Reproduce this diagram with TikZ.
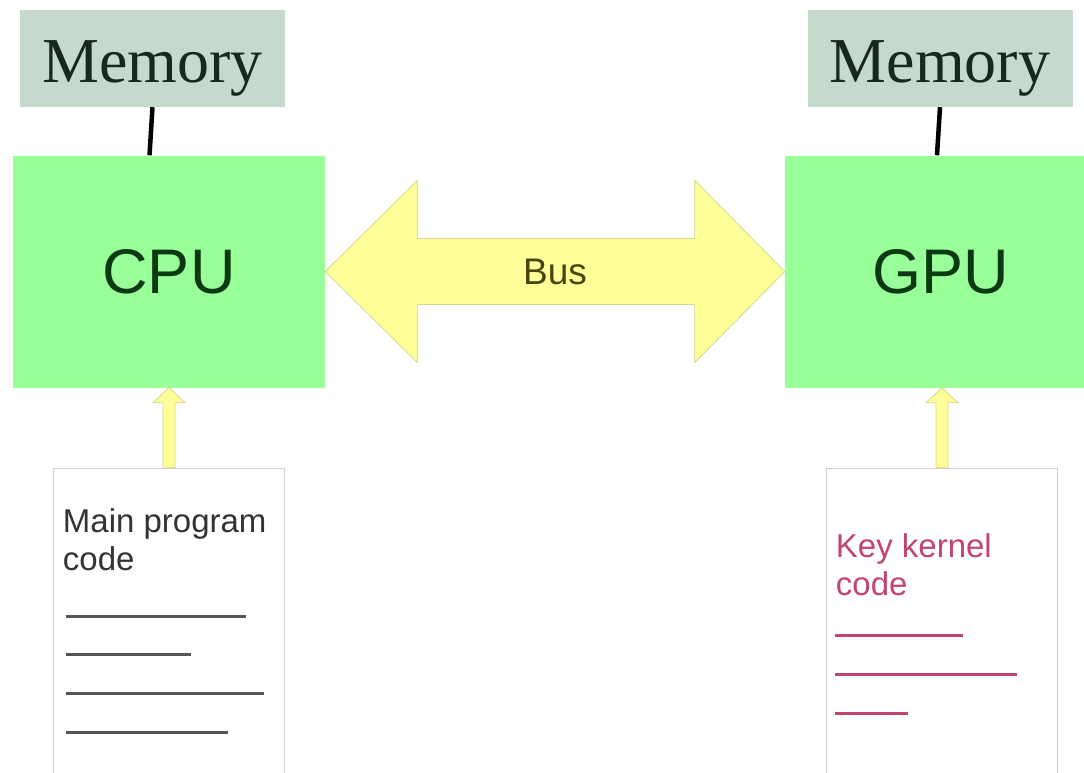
\documentclass[tikz,border=0pt]{standalone}
\usepackage{fontspec}
\setmainfont{Liberation Serif}
\setsansfont{Liberation Sans}
\usetikzlibrary{positioning, calc}

\definecolor{memfill}{HTML}{C6D9CD}
\definecolor{memtext}{HTML}{18281E}
\definecolor{chipfill}{HTML}{99FF99}
\definecolor{chiptext}{HTML}{0B3A12}
\definecolor{busfill}{HTML}{FFFF99}
\definecolor{busline}{HTML}{D6D68C}
\definecolor{bustext}{HTML}{46460F}
\definecolor{pagegray}{HTML}{D0D0D0}
\definecolor{codegray}{HTML}{555555}
\definecolor{kernelred}{HTML}{C2456E}

\tikzset{
  membox/.style={fill=memfill, inner sep=0pt, minimum width=265pt, minimum height=97pt,
    text=memtext, text height=49pt, text depth=0pt, font=\fontsize{64}{70}\selectfont},
  chipbox/.style={fill=chipfill, inner sep=0pt, minimum width=312pt, minimum height=232pt,
    text=chiptext, font=\sffamily\fontsize{63}{70}\selectfont},
  memlink/.style={line width=4.5pt, black},
  busarrow/.style={fill=busfill, draw=busline, line width=0.8pt, line join=miter},
  feedarrow/.style={fill=busfill, draw=busline, line width=0.8pt},
  codepage/.style={draw=pagegray, line width=1.5pt, fill=white, inner sep=0pt,
    minimum width=231pt, minimum height=323pt},
  codetext/.style={inner sep=0pt, anchor=north west, align=left,
    font=\sffamily\fontsize{33}{38}\selectfont},
  codeline/.style={line width=2.5pt},
}

\begin{document}
\begin{tikzpicture}[x=1pt, y=-1pt]
    \useasboundingbox (0,0) rectangle (1084,773);

    % processors and their memories
    \node[chipbox] (cpu) at (169,271.5) {CPU};
    \node[chipbox] (gpu) at (941,271.5) {GPU};
    \node[membox] (memL) at (152.5,58.5) {Memory};
    \node[membox] (memR) at (940,58.5) {Memory};
    \draw[memlink] (memL.south) -- ($(memL.south |- cpu.north)+(-3,0)$);
    \draw[memlink] (memR.south) -- ($(memR.south |- gpu.north)+(-3,0)$);

    % the bus between them
    \draw[busarrow] (cpu.east) -- ++(92,-91) -- ++(0,58) -- ($(gpu.west)+(-90,-33)$)
        -- ++(0,-58) -- (gpu.west) -- ++(-90,91) -- ++(0,-58)
        -- ($(cpu.east)+(92,33)$) -- ++(0,58) -- cycle;
    \node[text=bustext, font=\sffamily\fontsize{37}{40}\selectfont] (bus)
        at ($(cpu.east)!0.5!(gpu.west)$) {Bus};

    % code listings
    \node[codepage, below=80pt of cpu] (codeL) {};
    \node[codepage, below=80pt of gpu, xshift=1pt] (codeR) {};
    \node[codetext, text=black!80] (mainTxt) at ($(codeL.north west)+(10,41)$) {Main program\\code};
    \node[codetext, text=kernelred] (kernelTxt) at ($(codeR.north west)+(10,66)$) {Key kernel\\code};
    \foreach \dy/\len in {149/180, 187/125, 226/198, 265/162}
        \draw[codeline, codegray] ($(codeL.north west)+(13,\dy)$) -- ++(\len,0);
    \foreach \dy/\len in {168/128, 207/182, 246/73}
        \draw[codeline, kernelred] ($(codeR.north west)+(9,\dy)$) -- ++(\len,0);

    % code feeds each processor
    \foreach \src/\dst in {codeL/cpu, codeR/gpu}
        \draw[feedarrow] ($(\src.north)+(-6,0)$) -- ($(\src.north |- \dst.south)+(-6,15)$)
            -- ($(\src.north |- \dst.south)+(-16,15)$) -- (\src.north |- \dst.south)
            -- ($(\src.north |- \dst.south)+(16,15)$)
            -- ($(\src.north |- \dst.south)+(6,15)$) -- ($(\src.north)+(6,0)$) -- cycle;
\end{tikzpicture}
\end{document}
